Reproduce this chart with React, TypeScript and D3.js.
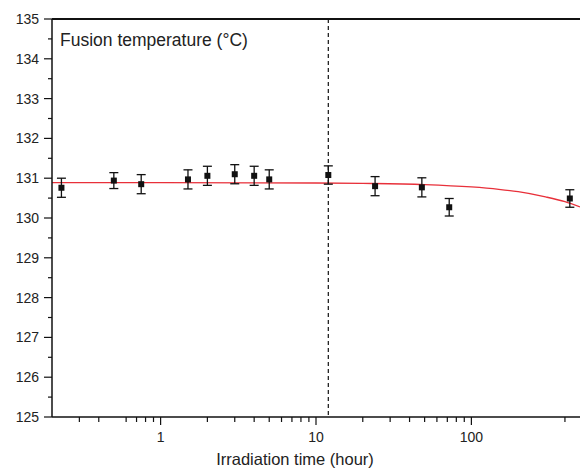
import React from "react";
import * as d3 from "d3";

const times = [0.23, 0.5, 0.75, 1.5, 2, 3, 4, 5, 12, 24, 48, 72, 430];
const temps = [130.76, 130.94, 130.85, 130.97, 131.06, 131.1, 131.06, 130.97, 131.08, 130.8, 130.77, 130.27, 130.49];
const errs = [0.24, 0.2, 0.24, 0.24, 0.24, 0.24, 0.24, 0.24, 0.23, 0.24, 0.24, 0.22, 0.22];

const fitTimes = [0.2, 1, 10, 20, 50, 100, 150, 200, 300, 400, 500];
const fitTemps = [130.89, 130.89, 130.88, 130.87, 130.84, 130.78, 130.72, 130.66, 130.53, 130.41, 130.28];

const yTicks = [125, 126, 127, 128, 129, 130, 131, 132, 133, 134, 135];
const yMinor = [125.5, 126.5, 127.5, 128.5, 129.5, 130.5, 131.5, 132.5, 133.5, 134.5];
const xMajor = [1, 10, 100];
const xMinor = [0.3, 0.4, 0.6, 0.7, 0.8, 0.9, 2, 3, 4, 5, 6, 7, 8, 9, 20, 30, 40, 50, 60, 70, 80, 90, 400];
const markerTime = 12;

const W = 580;
const H = 468;
const L = 52;
const R = 580;
const T = 19;
const B = 417;
const FONT = "'Liberation Sans', Arial, sans-serif";

export default function App() {
  const x = d3.scaleLog().domain([0.2, 500]).range([L, R]);
  const y = d3.scaleLinear().domain([125, 135]).range([B, T]);
  const line = d3
    .line<number>()
    .x((_, i) => x(fitTimes[i]))
    .y((d) => y(d))
    .curve(d3.curveMonotoneX);

  return (
    <svg
      width={W}
      height={H}
      style={{ position: "absolute", left: 0, top: 0, background: "#fff" }}
      fontFamily={FONT}
    >
      <rect x={0} y={0} width={W} height={H} fill="#fff" />
      {/* fit curve */}
      <path d={line(fitTemps) || ""} fill="none" stroke="#e8303a" strokeWidth={1.3} />
      {/* dashed vertical */}
      <line x1={x(markerTime)} x2={x(markerTime)} y1={T} y2={B} stroke="#111" strokeWidth={1.2} strokeDasharray="4,3" />
      {/* error bars and points */}
      {times.map((t, i) => {
        const cx = x(t);
        const yt = y(temps[i] + errs[i]);
        const yb = y(temps[i] - errs[i]);
        return (
          <g key={i} stroke="#111" strokeWidth={1.3}>
            <line x1={cx} x2={cx} y1={yt} y2={yb} />
            <line x1={cx - 4.5} x2={cx + 4.5} y1={yt} y2={yt} />
            <line x1={cx - 4.5} x2={cx + 4.5} y1={yb} y2={yb} />
            <rect x={cx - 3} y={y(temps[i]) - 3} width={6} height={6} fill="#111" stroke="none" />
          </g>
        );
      })}
      {/* frame */}
      <line x1={L} x2={R} y1={T} y2={T} stroke="#111" strokeWidth={2} />
      <line x1={L} x2={L} y1={T} y2={B} stroke="#111" strokeWidth={1.5} />
      <line x1={L} x2={R} y1={B} y2={B} stroke="#111" strokeWidth={1.5} />
      {/* y ticks */}
      {yTicks.map((v) => (
        <g key={"y" + v}>
          <line x1={L - 8} x2={L} y1={y(v)} y2={y(v)} stroke="#111" strokeWidth={1.2} />
          <text x={L - 13} y={y(v)} dy="0.35em" textAnchor="end" fontSize={14} fill="#222">
            {v}
          </text>
        </g>
      ))}
      {yMinor.map((v) => (
        <line key={"ym" + v} x1={L - 4} x2={L} y1={y(v)} y2={y(v)} stroke="#111" strokeWidth={1.2} />
      ))}
      {/* x ticks */}
      {xMajor.map((v) => (
        <g key={"x" + v}>
          <line x1={x(v)} x2={x(v)} y1={B} y2={B + 8} stroke="#111" strokeWidth={1.2} />
          <text x={x(v)} y={B + 25} textAnchor="middle" fontSize={14} fill="#222">
            {v}
          </text>
        </g>
      ))}
      {xMinor.map((v) => (
        <line key={"xm" + v} x1={x(v)} x2={x(v)} y1={B} y2={B + 5} stroke="#111" strokeWidth={1.2} />
      ))}
      {/* labels */}
      <text x={60} y={46} fontSize={17.5} fill="#222">
        Fusion temperature (°C)
      </text>
      <text x={295} y={465} textAnchor="middle" fontSize={16.5} fill="#222">
        Irradiation time (hour)
      </text>
    </svg>
  );
}
